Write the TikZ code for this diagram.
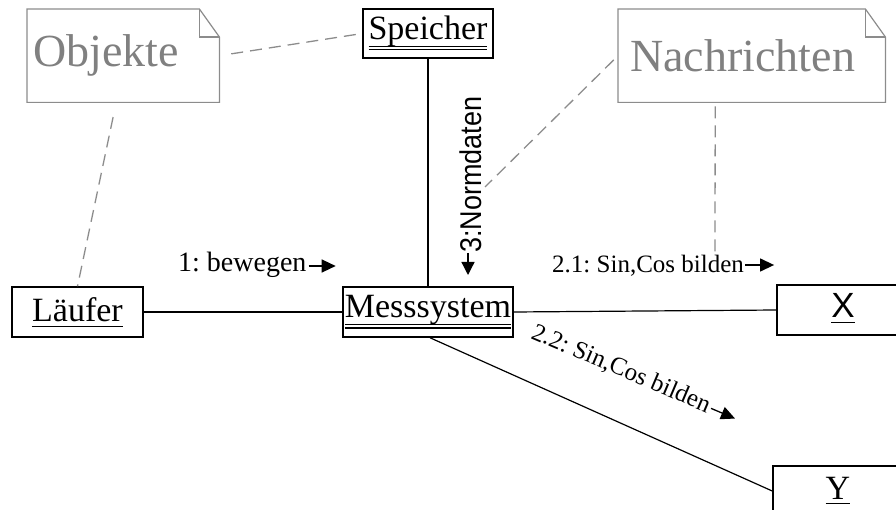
\documentclass[tikz,border=0pt]{standalone}
\usepackage{fontspec}
\setmainfont{Liberation Serif}
\newfontfamily\arialf{Liberation Sans}
\usetikzlibrary{arrows.meta,calc}
\newcommand\ulone[1]{\setbox0=\hbox{#1}\rlap{\rule[-5pt]{\wd0}{1.3pt}}\box0}
\newcommand\ultwo[1]{\setbox0=\hbox{#1}\rlap{\rule[-7.5pt]{\wd0}{1.1pt}}\rlap{\rule[-10.5pt]{\wd0}{1.1pt}}\box0}
\definecolor{notegray}{RGB}{140,140,140}
\definecolor{notetxt}{RGB}{128,128,128}
\begin{document}
\frenchspacing
\begin{tikzpicture}[x=1pt,y=-1pt,
  obj/.style={draw=black, line width=1.5pt, fill=white, inner sep=0pt,
    minimum height=50pt, font=\fontsize{34}{40}\selectfont,
    text height=24pt, text depth=12pt},
  notebox/.style={draw=none, inner sep=0pt, anchor=north west},
  noteline/.style={draw=notegray, line width=1.2pt, line join=miter},
  notetext/.style={text=notetxt, font=\fontsize{46}{52}\selectfont, anchor=base west, inner sep=0pt},
  link/.style={draw=black, line width=1.2pt},
  notelink/.style={draw=notegray, line width=1.3pt, dash pattern=on 12pt off 7pt},
  msg/.style={font=\fontsize{25}{30}\selectfont, inner sep=0pt, anchor=base west},
  msgarrow/.style={line width=1.3pt, -{Triangle[length=14pt,width=13pt]}}
]
\useasboundingbox (0,0) rectangle (896,510);
\clip (0,0) rectangle (896,510);

% notes
\node[notebox, minimum width=192pt, minimum height=93pt] (objekte) at (27,9) {};
\draw[noteline] (objekte.north west) -- ([xshift=-20pt]objekte.north east)
  -- ([yshift=-28pt]objekte.north east) -- (objekte.south east) -- (objekte.south west) -- cycle;
\draw[noteline] ([xshift=-20pt]objekte.north east) |- ([yshift=-28pt]objekte.north east);
\node[notetext] (objtext) at (33,67) {Objekte};

\node[notebox, minimum width=267pt, minimum height=93pt] (nachrichten) at (618,9) {};
\draw[noteline] (nachrichten.north west) -- ([xshift=-20pt]nachrichten.north east)
  -- ([yshift=-28pt]nachrichten.north east) -- (nachrichten.south east) -- (nachrichten.south west) -- cycle;
\draw[noteline] ([xshift=-20pt]nachrichten.north east) |- ([yshift=-28pt]nachrichten.north east);
\node[notetext] (nachtext) at (630,72) {Nachrichten};

% objects
\node[obj, minimum width=130pt, minimum height=49pt] (speicher) at (428,33.5) {\ultwo{Speicher}};
\node[obj, minimum width=131pt, text depth=4pt] (laeufer) at (77.5,312) {\ulone{Läufer}};
\node[obj, minimum width=170pt] (messsystem) at (428,312) {\ultwo{Messsystem}};
\node[obj, minimum width=132pt, text depth=8pt, font=\arialf\fontsize{35}{40}\selectfont] (x) at (843,310) {\ulone{X}};
\node[obj, minimum width=130pt, text depth=8pt] (y) at (838,491) {\ulone{Y}};

% links
\draw[link] (speicher.south) -- (messsystem.north);
\draw[link] (laeufer.east) -- (messsystem.west);
\draw[link] (messsystem.east) -- (x.west);
\draw[link] ([xshift=2pt]messsystem.south) -- (y.west);

% note links
\coordinate (nnote) at (485,187);
\coordinate (nnote2) at (715,256);
\draw[notelink, shorten <=12pt] (objekte.east) -- (speicher.west);
\draw[notelink, shorten <=15pt] ([xshift=-7pt]objekte.south) -- (laeufer.north);
\draw[notelink, shorten <=6pt] (nachrichten.west) -- (nnote);
\draw[notelink, shorten <=4pt] ([xshift=-36.5pt]nachrichten.south) -- (nnote2);

% messages
\node[msg, font=\fontsize{28}{32}\selectfont] (m1) at (178,272) {1: bewegen};
\draw[msgarrow] ([xshift=2pt,yshift=6pt]m1.base east) -- ++(27,0);

\node[msg] (m21) at (552,273) {2.1: Sin,Cos bilden};
\draw[msgarrow] ([xshift=1pt,yshift=8pt]m21.base east) -- ++(29,0);

\node[msg, rotate=-23] (m22) at (530,338) {2.2: Sin,Cos bilden};
\draw[msgarrow] ([shift={(4.2,-4.7)}]m22.base east) -- ++(24,10.2);

\node[msg, font=\arialf\fontsize{30}{34}\selectfont, rotate=90] (m3) at (481,253) {\scalebox{0.9}[1]{3:Normdaten}};
\draw[msgarrow, -{Triangle[length=13pt,width=13pt]}] ([xshift=-13pt]m3.base west) -- ++(0,22);
\end{tikzpicture}
\end{document}
